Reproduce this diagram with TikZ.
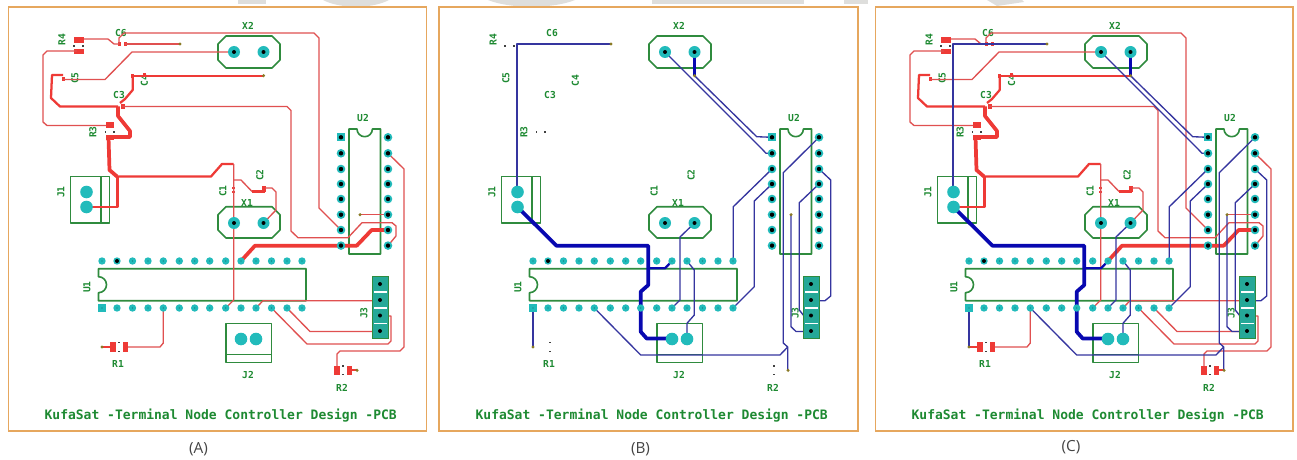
\documentclass[tikz,border=0pt]{standalone}
\usepackage{fontspec}
\setmainfont{Open Sans}
\newfontfamily\pcbfont{DejaVu Sans Mono}
\definecolor{frameC}{HTML}{E6A75E}
\definecolor{silkC}{HTML}{2F8B3E}
\definecolor{textC}{HTML}{1E8A32}
\definecolor{redC}{HTML}{EE3A36}
\definecolor{redT}{HTML}{E05050}
\definecolor{bluT}{HTML}{35359F}
\definecolor{bluK}{HTML}{0808B0}
\definecolor{padC}{HTML}{22BBBB}
\definecolor{jumpC}{HTML}{25A898}
\definecolor{viaC}{HTML}{8A7A25}
\definecolor{wmC}{HTML}{DEDEDC}
\definecolor{capC}{HTML}{444444}
\tikzset{
  silk/.style={draw=silkC,line width=1.2pt,line join=round},
  labelA/.style={text=textC,font=\pcbfont\bfseries\fontsize{7.2}{8}\selectfont,inner sep=0pt},
  labelR/.style={labelA,rotate=90},
  titleT/.style={text=textC,font=\pcbfont\bfseries\fontsize{9.75}{11}\selectfont,inner sep=0pt},
  capT/.style={text=capC,font=\fontsize{11.5}{13}\selectfont,inner sep=0pt},
  rtrace/.style={draw=redT,line width=1pt,line join=round},
  rmid/.style={draw=redC,line width=1.7pt,line join=round},
  rthick/.style={draw=redC,line width=2.8pt,line join=round},
  btrace/.style={draw=bluT,line width=1pt,line join=round},
  bmid/.style={draw=bluK,line width=1.7pt,line join=round},
  bthick/.style={draw=bluK,line width=2.8pt,line join=round},
  rpad/.style={fill=redC,draw=none},
  padT/.style={fill=padC,draw=none},
  holeK/.style={fill=black,draw=none},
  frameS/.style={draw=frameC,line width=1.2pt,fill=white}
}
% ---------- silk layer + labels ----------
\newcommand{\silkLayer}[1]{%
  \draw[silk] (226,36)--(272,36)--(280,44)--(280,60)--(272,68)--(226,68)--(218,60)--(218,44)--cycle;
  \draw[silk] (226,206.7)--(272,206.7)--(280,214.7)--(280,230)--(272,238)--(226,238)--(218,230)--(218,214.7)--cycle;
  \draw[silk] (349,129)--(357,129) arc[start angle=180,end angle=0,radius=7.7] --(380.5,129)--(380.5,254)--(349,254)--cycle;
  \draw[silk] (70.5,176.5) rectangle (109.5,223);
  \draw[silk] (101,176.5)--(101,223);
  \draw[silk] (98.5,268.7)--(306,268.7)--(306,300.7)--(98.5,300.7)--(98.5,292.7) arc[start angle=90,end angle=-90,radius=8] --cycle;
  \draw[silk] (225.7,323.3) rectangle (271.5,362.3);
  \draw[silk] (225.7,354.3)--(271.5,354.3);
  \node[labelA] (#1X2) at (248,25.5) {X2};
  \node[labelA] (#1X1) at (247,203) {X1};
  \node[labelA] (#1U2) at (363,118) {U2};
  \node[labelR] (#1U1) at (87,287) {U1};
  \node[labelR] (#1J1) at (61,192) {J1};
  \node[labelA] (#1J2) at (248,375.5) {J2};
  \node[labelR] (#1J3) at (364,313) {J3};
  \node[labelA] (#1R1) at (118,363.5) {R1};
  \node[labelA] (#1R2) at (342,387.5) {R2};
  \node[labelR] (#1R3) at (93,132) {R3};
  \node[labelR] (#1R4) at (62,40) {R4};
  \node[labelR] (#1C1) at (223,191) {C1};
  \node[labelR] (#1C2) at (260,175) {C2};
  \node[labelA] (#1C3) at (119,95) {C3};
  \node[labelR] (#1C4) at (144.5,81) {C4};
  \node[labelR] (#1C5) at (75,78) {C5};
  \node[labelA] (#1C6) at (121,33) {C6};
  \node[titleT] (#1T) at (220.7,415.6) {KufaSat -Terminal Node Controller Design -PCB};
}
% ---------- red (top copper) ----------
\newcommand{\redLayer}{%
  \fill[rpad] (74,37.3) rectangle (84,42.7);
  \fill[rpad] (74,49) rectangle (84,54);
  \fill[rpad] (105.5,122.5) rectangle (114,128);
  \fill[rpad] (105.5,135) rectangle (114,140);
  \fill[rpad] (110,342) rectangle (116,351.7);
  \fill[rpad] (122.7,342) rectangle (128,351.7);
  \fill[rpad] (334,366) rectangle (340,374.7);
  \fill[rpad] (346.7,366) rectangle (352,374.7);
  \fill[rpad] (118,42) rectangle (121,46);
  \fill[rpad] (123.5,42) rectangle (127,46);
  \fill[rpad] (120.5,104) rectangle (125,109);
  \fill[rpad] (61.5,77) rectangle (65,81);
  \fill[rpad] (131,74) rectangle (134,78);
  \fill[rpad] (142.7,73.5) rectangle (145.5,77);
  \fill[rpad] (232.3,187) rectangle (235,189);
  \fill[rpad] (232.3,191) rectangle (235,193);
  \fill[rpad] (262,186) rectangle (265.5,192);
  \draw[rtrace] (84,39)--(108,39)--(114,44)--(119,44);
  \draw[rtrace] (125,44)--(180,44);
  \draw[rtrace] (119,44)--(119,38)--(124,33)--(314,33)--(319,38)--(319,208)--(341,230);
  \draw[rtrace] (77,51)--(47,51)--(43,55)--(43,122)--(47,125.5)--(106,125.5);
  \draw[rtrace] (234,52)--(132,52)--(105,79.5)--(63,79.5);
  \draw[rmid] (63,75)--(52,75)--(51,98)--(60,106.5)--(118,106.5);
  \draw[rmid] (263.5,76)--(133,76);
  \draw[rmid] (132.7,76)--(132.7,90)--(125,99)--(120,103);
  \draw[rtrace] (122,106.5)--(287,106.5)--(291,110.5)--(291,231)--(298,237.7)--(348,237.7)--(362,222.7)--(392,222.7)--(396,226)--(396,236)--(388,245.7);
  \draw[rthick] (118,106.5)--(118,116)--(130,131)--(130,137)--(106,137);
  \draw[rthick] (108.5,137)--(109.5,170)--(117,176.5);
  \draw[rmid] (117,176.5)--(211,176.5)--(222,164)--(233.5,164);
  \draw[rmid] (117.5,176.5)--(117.5,207)--(86.5,207);
  \draw[rtrace] (233.7,164)--(233.7,300)--(225.7,308);
  \draw[rtrace] (233.7,180)--(241,180)--(252,191.5);
  \draw[rmid] (252,191.5)--(265,191.5);
  \draw[rtrace] (265,188)--(272,188)--(276,192)--(276,210)--(263.5,223);
  \draw[rthick] (241,261)--(255,245.7)--(356.7,245.7)--(371.7,230)--(388,230);
  \draw[rtrace] (360,214.7)--(388,214.7);
  \draw[rtrace] (256,308)--(263,300.7)--(372.5,300.7);
  \draw[rtrace] (271.5,308)--(307,344)--(388,344)--(391,341)--(391,316)--(380,316);
  \draw[rtrace] (287,308)--(310,331.5)--(380,331.5);
  \draw[rtrace] (163.3,308)--(163.3,343)--(160,347)--(128,347);
  \draw[rmid] (102,347)--(110,347);
  \draw[rtrace] (337,366)--(337,354)--(340,351)--(400,351)--(404,347)--(404,169)--(388,153.3);
  \draw[rmid] (352,370.3)--(357,370.3);
}
% ---------- blue (bottom copper) ----------
\newcommand{\blueLayer}{%
  \draw[btrace] (86,192)--(86,44)--(180,44);
  \draw[btrace] (234,52)--(331,149)--(335,153.3)--(341,153.3);
  \draw[btrace] (263.5,75.7)--(325.7,136.7)--(341,137.3);
  \draw[bmid] (263.5,52)--(263.5,75.7);
  \draw[btrace] (388,137.3)--(352.3,172.7)--(352.3,343)--(356.7,347)--(356.7,370);
  \draw[btrace] (163.3,308)--(209.7,355)--(349,355)--(356.7,347);
  \draw[btrace] (341,169)--(302.3,206.7)--(302.3,261);
  \draw[btrace] (341,184)--(323.3,201)--(323.3,286.7)--(302,308);
  \draw[btrace] (388,169)--(399.7,180)--(399.7,296)--(394,300.7)--(380,300.7);
  \draw[btrace] (388,184)--(368.3,202.7)--(368.3,310)--(373,316)--(380,316);
  \draw[btrace] (360,215)--(360,326.7)--(365,331.5)--(380,331.5);
  \draw[bthick] (86.5,207)--(125.5,245.7)--(217.3,245.7)--(217.3,285)--(209.7,291.7)--(209.7,331.7)--(215.7,338.5)--(241,338.5);
  \draw[bmid] (217.3,268.3)--(234,268.3)--(241,261);
  \draw[btrace] (263.5,223)--(249,237)--(249,300)--(241,308);
  \draw[btrace] (256,261)--(263.3,270)--(263.3,315)--(256,323.3)--(256,339);
  \draw[btrace] (102,308)--(102,347);
}
% ---------- pads, holes, vias ----------
\newcommand{\padLayer}{%
  \fill[padT] (337,133) rectangle (345,141);
  \foreach \y in {153.3,169,184,199,214.7,230,245.6}{
    \fill[padT] (341,\y) circle[radius=4.3];
  }
  \foreach \y in {137.3,153.3,169,184,199,214.7,230,245.6}{
    \fill[padT] (388,\y) circle[radius=4.3];
    \fill[holeK] (388,\y) circle[radius=2.2];
    \fill[holeK] (341,\y) circle[radius=2.2];
  }
  \foreach \x in {102,117,132.5,148,163.3,179.3,194.7,209.7,225.7,241,256,271.5,287,302}{
    \fill[padT] (\x,261) circle[radius=3.7];
    \fill[padC!60!black] (\x,261) circle[radius=0.6];
  }
  \fill[holeK] (117,261) circle[radius=2];
  \foreach \x in {117,132.5,148,163.3,179.3,194.7,209.7,225.7,241,256,271.5,287,302}{
    \fill[padT] (\x,308) circle[radius=3.7];
    \fill[padC!60!black] (\x,308) circle[radius=0.6];
  }
  \fill[padT] (98,304) rectangle (106,312);
  \fill[padC!60!black] (102,308) circle[radius=0.6];
  \foreach \x/\y in {234/52,263.5/52,234/223,263.5/223}{
    \fill[padT] (\x,\y) circle[radius=6];
    \fill[holeK] (\x,\y) circle[radius=2];
  }
  \foreach \x/\y in {86.5/192,86.5/207,241/339,256/339}{
    \fill[padT] (\x,\y) circle[radius=6.3];
  }
  \filldraw[fill=jumpC,draw=silkC,line width=1pt] (372.5,276.7) rectangle (388.5,338.7);
  \foreach \y in {292,308,323.5}{\fill[white] (374,\y-0.9) rectangle (387,\y+0.9);}
  \foreach \y in {284,300,315.5,331}{\fill[holeK] (380,\y) circle[radius=2];}
  \foreach \x/\y in {180/44,263.5/75.7,360/214.7,102/347,357/370.3}{
    \fill[viaC] (\x,\y) circle[radius=1.7];
  }
  \foreach \x/\y in {74/46,83/46,105.5/132,114/132,119/342.7,119/351.3,343/366,343/374.7}{
    \fill[black!75] (\x-0.7,\y-0.6) rectangle (\x+0.7,\y+0.6);
  }
}
\begin{document}
\begin{tikzpicture}[x=0.75pt,y=-0.75pt]
\useasboundingbox (0,0) rectangle (1297,460);
% background watermark fragments
\fill[wmC] (238,0) rectangle (266,4);
\fill[wmC] (323,0) .. controls (340,9) and (372,9) .. (389,0) -- cycle;
\fill[wmC] (488,0) .. controls (510,9) and (553,9) .. (575,0) -- cycle;
\fill[wmC] (652,0) rectangle (804,4);
\fill[wmC] (844,0) rectangle (868,4);
\fill[wmC] (987,0)--(997,6)--(1024,2)--(1022,0)--cycle;
% frames
\draw[frameS] (8.3,7) rectangle (426.6,431);
\draw[frameS] (439.2,7) rectangle (857.8,431);
\draw[frameS] (875.3,7) rectangle (1293,431);
% Panel A : top copper
\begin{scope}
  \silkLayer{a}
  \redLayer
  \padLayer
\end{scope}
% Panel B : bottom copper
\begin{scope}[shift={(431,0)}]
  \silkLayer{b}
  \blueLayer
  \padLayer
\end{scope}
% Panel C : both
\begin{scope}[shift={(867,0)}]
  \silkLayer{c}
  \redLayer
  \blueLayer
  \padLayer
\end{scope}
\node[capT] (capA) at (198.5,449) {(A)};
\node[capT] (capB) at (640.5,449) {(B)};
\node[capT] (capC) at (1071,447.5) {(C)};
\end{tikzpicture}
\end{document}
